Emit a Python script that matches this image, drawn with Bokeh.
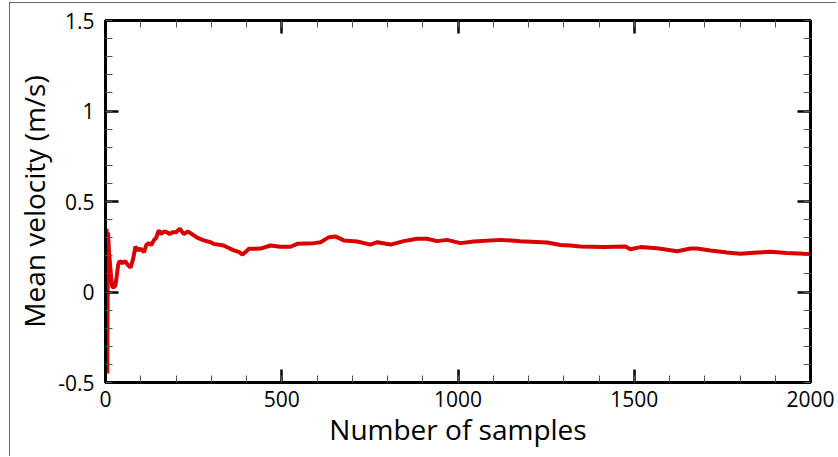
from bokeh.plotting import figure
from bokeh.models import Range1d, LinearAxis, SingleIntervalTicker, CustomJSTickFormatter
from bokeh.embed import file_html
from bokeh.resources import INLINE

# data
samples = [1, 3, 5, 7, 10, 13, 16, 19, 23, 28, 32, 36, 40, 48, 56, 63, 71, 78, 85, 92,
           99, 109, 116, 123, 130, 137, 144, 151, 158, 166, 175, 182, 189, 200, 211, 222,
           233, 245, 260, 279, 298, 307, 335, 364, 380, 388, 397, 407, 440, 468, 496, 525,
           544, 591, 610, 634, 652, 676, 714, 752, 771, 809, 846, 884, 912, 941, 969, 1007,
           1045, 1121, 1177, 1253, 1291, 1319, 1348, 1414, 1475, 1489, 1518, 1565, 1622,
           1660, 1678, 1716, 1763, 1801, 1849, 1886, 1933, 1981, 2000]
mean_velocity = [0.10, 0.35, -0.45, 0.33, 0.22, 0.15, 0.08, 0.03, 0.025, 0.035, 0.09, 0.15,
                 0.17, 0.16, 0.17, 0.15, 0.135, 0.18, 0.25, 0.23, 0.24, 0.22, 0.26, 0.27,
                 0.26, 0.285, 0.30, 0.34, 0.32, 0.335, 0.33, 0.32, 0.33, 0.33, 0.35, 0.32,
                 0.334, 0.32, 0.30, 0.285, 0.275, 0.266, 0.257, 0.23, 0.22, 0.207, 0.22,
                 0.239, 0.24, 0.257, 0.25, 0.25, 0.266, 0.27, 0.275, 0.303, 0.307, 0.285,
                 0.279, 0.262, 0.275, 0.262, 0.281, 0.294, 0.294, 0.281, 0.288, 0.27, 0.279,
                 0.288, 0.281, 0.273, 0.26, 0.257, 0.252, 0.248, 0.251, 0.236, 0.248, 0.242,
                 0.225, 0.24, 0.24, 0.229, 0.218, 0.211, 0.218, 0.222, 0.216, 0.211, 0.21]

x_label = "Number of samples"
y_label = "Mean velocity (m/s)"
y_tick_labels = {-0.5: "-0.5", 0: "0", 0.5: "0.5", 1: "1", 1.5: "1.5"}

FONT = "Open Sans"

p = figure(width=827, height=454,
           x_range=Range1d(0, 2000), y_range=Range1d(-0.5, 1.5),
           output_backend="svg", toolbar_location=None,
           min_border_left=96, min_border_right=26, min_border_top=18, min_border_bottom=74)
p.styles = {"margin-left": "9px", "margin-top": "2px",
            "outline": "1.5px solid #3a3a3a", "outline-offset": "-1.5px"}
p.grid.visible = False
p.outline_line_color = "black"
p.outline_line_width = 3
p.background_fill_color = "white"
p.border_fill_color = "white"

blank = CustomJSTickFormatter(code="return '';")
p.add_layout(LinearAxis(formatter=blank, major_label_standoff=0), "above")
p.add_layout(LinearAxis(formatter=blank, major_label_standoff=0), "right")

for ax in p.xaxis:
    ax.ticker = SingleIntervalTicker(interval=500, num_minor_ticks=5)
for ax in p.yaxis:
    ax.ticker = SingleIntervalTicker(interval=0.5, num_minor_ticks=5)

for ax in p.axis:
    ax.axis_line_color = "black"
    ax.axis_line_width = 3
    ax.major_tick_in = 13
    ax.major_tick_out = 0
    ax.major_tick_line_width = 2.5
    ax.major_tick_line_color = "black"
    ax.minor_tick_in = 7
    ax.minor_tick_out = 0
    ax.minor_tick_line_width = 1
    ax.minor_tick_line_color = "#555555"
    ax.major_label_text_font = FONT
    ax.major_label_text_font_size = "21px"
    ax.major_label_text_color = "black"
    ax.axis_label_text_font = FONT
    ax.axis_label_text_font_size = "28px"
    ax.axis_label_text_font_style = "normal"
    ax.axis_label_text_color = "black"

p.below[0].axis_label = x_label
p.below[0].major_label_standoff = 8
p.below[0].axis_label_standoff = 0
p.left[0].axis_label = y_label
p.left[0].major_label_standoff = 11
p.left[0].axis_label_standoff = 2
p.left[0].major_label_overrides = y_tick_labels

p.line(samples, mean_velocity, line_color="#d90000", line_width=4)

open("out.html", "w").write(file_html(p, INLINE))
